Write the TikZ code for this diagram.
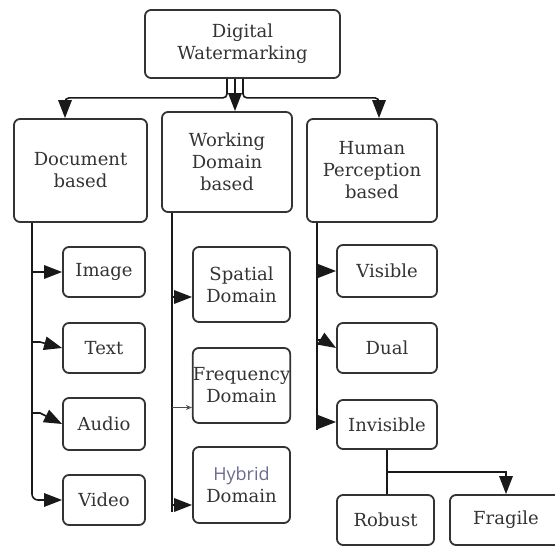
\documentclass[tikz,border=0pt]{standalone}
\usepackage{fontspec}
\setmainfont{DejaVu Serif}
\newfontfamily\hybfont{Open Sans}
\usetikzlibrary{arrows.meta}
\definecolor{linec}{gray}{0.1}
\definecolor{boxc}{gray}{0.2}
\definecolor{txtc}{gray}{0.2}
\definecolor{hybc}{rgb}{0.42,0.42,0.56}
\begin{document}
\begin{tikzpicture}[x=1pt,y=-1pt,
  box/.style={draw=boxc, line width=1.8pt, rounded corners=6pt, align=center,
    inner sep=0pt, text=txtc, font=\fontsize{18}{22}\selectfont},
  wire/.style={draw=linec, line width=1.6pt},
  conn/.style={wire, -{Triangle[length=18pt,width=13.5pt]}},
  smallconn/.style={draw=black!70, line width=0.8pt, -{Stealth[open,length=6pt,width=5pt]}}
]
\useasboundingbox (0,0) rectangle (555,548);
% nodes
\node[box, minimum width=195pt, minimum height=68pt] (top) at (242.5,44) {Digital\\Watermarking};
\node[box, minimum width=133pt, minimum height=103pt] (doc) at (80.5,170.5) {Document\\based};
\node[box, minimum width=130pt, minimum height=100pt] (work) at (227,162) {Working\\Domain\\based};
\node[box, minimum width=130pt, minimum height=103pt] (human) at (372,170.5) {Human\\Perception\\based};
\node[box, minimum width=82pt, minimum height=50pt] (image) at (104,272) {Image};
\node[box, minimum width=82pt, minimum height=50pt] (text) at (104,348) {Text};
\node[box, minimum width=82pt, minimum height=52pt] (audio) at (104,424) {Audio};
\node[box, minimum width=82pt, minimum height=50pt] (video) at (104,500) {Video};
\node[box, minimum width=97pt, minimum height=75pt] (spatial) at (241.5,284.5) {Spatial\\Domain};
\node[box, minimum width=97pt, minimum height=75pt] (freq) at (241.5,385.5) {Frequency\\Domain};
\node[box, minimum width=97pt, minimum height=76pt] (hybrid) at (241.5,485) {{\hybfont\color{hybc}Hybrid}\\Domain};
\node[box, minimum width=100pt, minimum height=52pt] (visible) at (387,271) {Visible};
\node[box, minimum width=100pt, minimum height=50pt] (dual) at (387,348) {Dual};
\node[box, minimum width=100pt, minimum height=49pt] (invisible) at (387,424.5) {Invisible};
\node[box, minimum width=97pt, minimum height=50pt] (robust) at (385.5,520) {Robust};
\node[box, minimum width=112pt, minimum height=50pt] (fragile) at (506,520) {Fragile};
% trunk coordinates
\coordinate (dtrunk) at ([xshift=-48.5pt]doc.south);
\coordinate (wtrunk) at ([xshift=-55pt]work.south);
\coordinate (htrunk) at ([xshift=-55pt]human.south);
% top level
\draw[conn, rounded corners=4pt] ([xshift=-15.5pt]top.south) -- ++(0,19) -| ([xshift=-15.5pt]doc.north);
\draw[conn] ([xshift=-7.5pt]top.south) -- ([xshift=8pt]work.north);
\draw[conn, rounded corners=4pt] ([xshift=0.5pt]top.south) -- ++(0,19) -| ([xshift=7pt]human.north);
% document based
\draw[conn, rounded corners=6pt] (dtrunk) |- (video.west);
\draw[conn] (image.west -| dtrunk) -- (image.west);
\draw[conn] ([yshift=6pt]text.west -| dtrunk) -- ++(8,0) -- (text.west);
\draw[conn] ([yshift=11pt]audio.west -| dtrunk) -- ++(8,0) -- (audio.west);
% working domain based
\draw[wire] (wtrunk) -- ([yshift=-27pt]hybrid.west -| wtrunk);
\draw[conn] ([yshift=-12.5pt]spatial.west -| wtrunk) -- ([yshift=-12.5pt]spatial.west);
\draw[smallconn] ([yshift=-22pt]freq.west -| wtrunk) -- ([yshift=-22pt]freq.west);
\draw[conn] ([yshift=-20pt]hybrid.west -| wtrunk) -- ([yshift=-20pt]hybrid.west);
% human perception based
\draw[wire] (htrunk) -- ([yshift=-6pt]invisible.west -| htrunk);
\draw[conn] (visible.west -| htrunk) -- (visible.west);
\draw[conn] ([yshift=8pt]dual.west -| htrunk) -- ++(6,0) -- (dual.west);
\draw[conn] ([yshift=2.5pt]invisible.west -| htrunk) -- ([yshift=2.5pt]invisible.west);
% invisible split
\draw[wire] (invisible.south) -- (invisible.south |- robust.north);
\draw[conn] ([yshift=-22pt]invisible.south) -| (fragile.north);
\end{tikzpicture}
\end{document}
